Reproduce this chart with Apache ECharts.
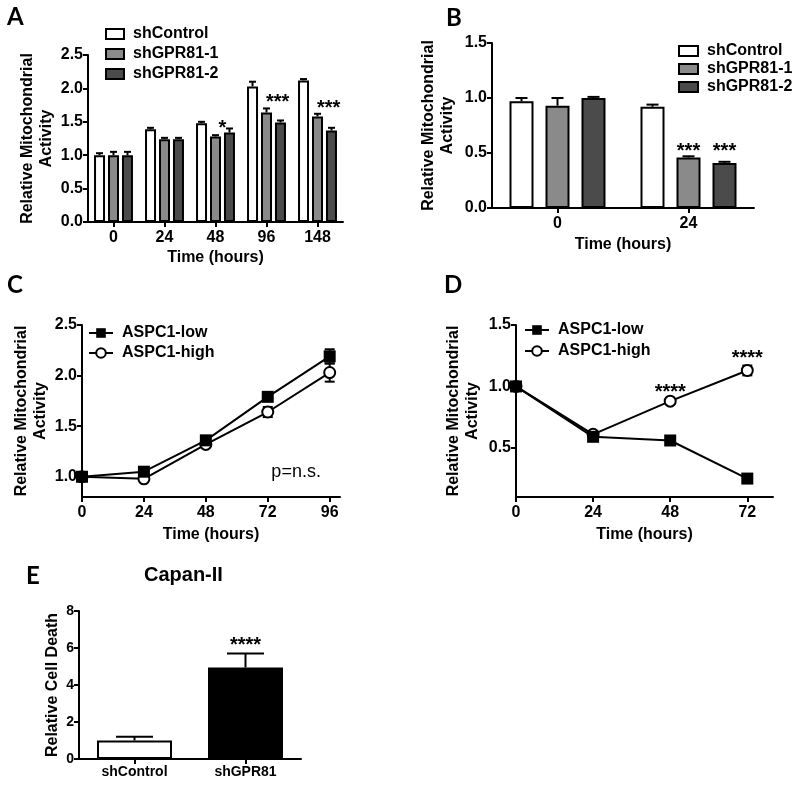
<!DOCTYPE html>
<html><head><meta charset="utf-8">
<script src="https://cdn.jsdelivr.net/npm/echarts@6/dist/echarts.min.js"></script>
<style>html,body{margin:0;padding:0;background:#fff}#c{width:800px;height:785px}</style>
</head><body><div id="c"></div>
<script>
// ---------- DATA ----------
// Panel A
const A_categories = ['0', '24', '48', '96', '148'];
const A_shControl = [1.00, 1.39, 1.48, 2.03, 2.12];
const A_shControl_err = [0.03, 0.02, 0.02, 0.07, 0.02];
const A_shGPR81_1 = [1.00, 1.24, 1.28, 1.64, 1.58];
const A_shGPR81_1_err = [0.05, 0.02, 0.02, 0.06, 0.04];
const A_shGPR81_2 = [1.00, 1.24, 1.34, 1.49, 1.37];
const A_shGPR81_2_err = [0.05, 0.02, 0.06, 0.03, 0.04];
// significance: [category, bar slot, y value, text]
const A_stars = [['48', 1.5, 1.48, '*'], ['96', 1.8, 1.87, '***'], ['148', 1.8, 1.78, '***']];

// Panel B
const B_categories = ['0', '24'];
const B_shControl = [0.97, 0.92];
const B_shControl_err = [0.03, 0.02];
const B_shGPR81_1 = [0.93, 0.46];
const B_shGPR81_1_err = [0.07, 0.01];
const B_shGPR81_2 = [1.00, 0.41];
const B_shGPR81_2_err = [0.01, 0.01];
const B_stars = [['24', 1, 0.56, '***'], ['24', 2, 0.56, '***']];

// Panel C
const C_time = [0, 24, 48, 72, 96];
const C_low = [1.00, 1.05, 1.36, 1.79, 2.19];
const C_low_err = [0.02, 0.02, 0.02, 0.02, 0.07];
const C_high = [1.00, 0.98, 1.32, 1.64, 2.03];
const C_high_err = [0.01, 0.01, 0.02, 0.05, 0.09];
const C_yTicks = [1.0, 1.5, 2.0, 2.5];
const C_note = [83, 1.05, 'p=n.s.'];

// Panel D
const D_time = [0, 24, 48, 72];
const D_low = [1.00, 0.59, 0.56, 0.25];
const D_low_err = [0.01, 0.01, 0.01, 0.01];
const D_high = [1.00, 0.61, 0.88, 1.13];
const D_high_err = [0.01, 0.02, 0.02, 0.04];
const D_yTicks = [0.5, 1.0, 1.5];
const D_stars = [[48, 0.99, '****'], [72, 1.27, '****']];

// Panel E
const E_categories = ['shControl', 'shGPR81'];
const E_values = [1.0, 4.95];
const E_err = [0.2, 0.75];
const E_stars = [['shGPR81', 6.43, '****']];

// ---------- STYLE ----------
const FONT = '"Liberation Sans", Arial, Helvetica, sans-serif';
const LETTER_FONT = 'Lato, "Open Sans", sans-serif';
const WHITE = '#ffffff', GRAY = '#8a8a8a', DARK = '#4b4b4b';
const TICK_FS = 16;

const chart = echarts.init(document.getElementById('c'));

function lbl(extra) {
  return Object.assign({ color: '#000', fontFamily: FONT, fontWeight: 'bold', fontSize: TICK_FS, margin: 5 }, extra || {});
}
function tck(extra) {
  return Object.assign({ show: true, length: 5, lineStyle: { color: '#000', width: 2 } }, extra || {});
}
function valAxis(grid, min, max, opts) {
  return Object.assign({
    type: 'value', gridIndex: grid, min: min, max: max,
    splitLine: { show: false },
    axisLine: { show: true, lineStyle: { color: '#000', width: 2 } },
    axisTick: tck(),
    axisLabel: lbl(),
    nameTextStyle: { color: '#000', fontFamily: FONT, fontWeight: 'bold', fontSize: 16, lineHeight: 19 }
  }, opts || {});
}
function catAxis(grid, data, opts) {
  return Object.assign({
    type: 'category', gridIndex: grid, data: data,
    axisLine: { show: true, lineStyle: { color: '#000', width: 2 } },
    axisTick: tck({ alignWithLabel: true }),
    axisLabel: lbl({ margin: 8 }),
    nameTextStyle: { color: '#000', fontFamily: FONT, fontWeight: 'bold', fontSize: 16 }
  }, opts || {});
}

function barSeries(name, grid, values, color, barW, gap) {
  return {
    name: name, type: 'bar', xAxisIndex: grid, yAxisIndex: grid,
    data: values, barWidth: barW, barGap: gap,
    itemStyle: { color: color, borderColor: '#000', borderWidth: 2 }
  };
}
// upper error bars over grouped bars
function barErr(grid, values, errs, slot, nBars, barW, gapPx, capW) {
  return {
    type: 'custom', xAxisIndex: grid, yAxisIndex: grid, z: 5, silent: true,
    data: values.map((v, i) => [i, v, errs[i]]),
    renderItem: function (params, api) {
      const c = api.coord([api.value(0), api.value(1)]);
      const t = api.coord([api.value(0), api.value(1) + api.value(2)]);
      const x = c[0] + (slot - (nBars - 1) / 2) * (barW + gapPx);
      return { type: 'group', children: [
        { type: 'line', shape: { x1: x, y1: c[1], x2: x, y2: t[1] }, style: { stroke: '#000', lineWidth: 2 } },
        { type: 'line', shape: { x1: x - capW / 2, y1: t[1], x2: x + capW / 2, y2: t[1] }, style: { stroke: '#000', lineWidth: 2 } }
      ] };
    }
  };
}
// symmetric error bars on line points
function lineErr(grid, xs, values, errs, capW) {
  return {
    type: 'custom', xAxisIndex: grid, yAxisIndex: grid, z: 1, silent: true,
    data: values.map((v, i) => [xs[i], v, errs[i]]),
    renderItem: function (params, api) {
      const lo = api.coord([api.value(0), api.value(1) - api.value(2)]);
      const hi = api.coord([api.value(0), api.value(1) + api.value(2)]);
      const x = lo[0];
      return { type: 'group', children: [
        { type: 'line', shape: { x1: x, y1: lo[1], x2: x, y2: hi[1] }, style: { stroke: '#000', lineWidth: 2 } },
        { type: 'line', shape: { x1: x - capW / 2, y1: hi[1], x2: x + capW / 2, y2: hi[1] }, style: { stroke: '#000', lineWidth: 2 } },
        { type: 'line', shape: { x1: x - capW / 2, y1: lo[1], x2: x + capW / 2, y2: lo[1] }, style: { stroke: '#000', lineWidth: 2 } }
      ] };
    }
  };
}
// text annotations ; item: [x, slot, y, text]
function textSeries(grid, items, nBars, barW, gapPx, fontSize, weight) {
  return {
    type: 'custom', xAxisIndex: grid, yAxisIndex: grid, z: 10, silent: true,
    data: items,
    renderItem: function (params, api) {
      const it = items[params.dataIndex];
      const p = api.coord([api.value(0), it[2]]);
      const x = p[0] + (it[1] - (nBars - 1) / 2) * (barW + gapPx);
      const isStar = it[3].indexOf('*') === 0;
      return { type: 'text', x: x, y: p[1] + (isStar ? fontSize * 0.25 : 0),
        style: { text: it[3], align: 'center', verticalAlign: 'middle',
          font: weight + ' ' + fontSize + 'px ' + FONT, fill: '#000' } };
    }
  };
}
function lineSeries(name, grid, xs, values, filled) {
  return {
    name: name, type: 'line', xAxisIndex: grid, yAxisIndex: grid,
    data: values.map((v, i) => [xs[i], v]),
    symbol: filled ? 'rect' : 'circle', symbolSize: filled ? 12 : 11,
    z: filled ? 4 : 3,
    lineStyle: { color: '#000', width: 2 },
    itemStyle: { color: filled ? '#000' : '#fff', borderColor: '#000', borderWidth: filled ? 0 : 2 }
  };
}

const legendText = { fontFamily: FONT, fontWeight: 'bold', fontSize: 16, color: '#000', padding: [0, 0, 0, 4] };
const yName = 'Relative Mitochondrial\nActivity';

const option = {
  animation: false,
  backgroundColor: '#fff',
  grid: [
    { left: 88, top: 55, width: 255, height: 167 },
    { left: 492, top: 43, width: 262, height: 165 },
    { left: 82, top: 325, width: 258, height: 172 },
    { left: 516, top: 325, width: 257, height: 172 },
    { left: 79, top: 611, width: 222, height: 148 }
  ],
  xAxis: [
    catAxis(0, A_categories, { name: 'Time (hours)', nameLocation: 'middle', nameGap: 28 }),
    catAxis(1, B_categories, { name: 'Time (hours)', nameLocation: 'middle', nameGap: 29 }),
    valAxis(2, 0, 100, { name: 'Time (hours)', nameLocation: 'middle', nameGap: 28,
      axisTick: tck({ customValues: C_time }),
      axisLabel: lbl({ margin: 8, customValues: C_time }) }),
    valAxis(3, 0, 80, { name: 'Time (hours)', nameLocation: 'middle', nameGap: 28,
      axisTick: tck({ customValues: D_time }),
      axisLabel: lbl({ margin: 8, customValues: D_time }) }),
    catAxis(4, E_categories, { axisLabel: lbl({ fontSize: 14, margin: 6 }) })
  ],
  yAxis: [
    valAxis(0, 0, 2.5, { interval: 0.5, name: yName, nameLocation: 'middle', nameGap: 32,
      axisLabel: lbl({ formatter: v => v.toFixed(1) }) }),
    valAxis(1, 0, 1.5, { interval: 0.5, name: yName, nameLocation: 'middle', nameGap: 35,
      axisLabel: lbl({ formatter: v => v.toFixed(1) }) }),
    valAxis(2, 0.8, 2.5, { name: yName, nameLocation: 'middle', nameGap: 32,
      axisTick: tck({ customValues: C_yTicks }),
      axisLabel: lbl({ customValues: C_yTicks, formatter: v => v.toFixed(1) }) }),
    valAxis(3, 0.1, 1.5, { name: yName, nameLocation: 'middle', nameGap: 34,
      axisTick: tck({ customValues: D_yTicks }),
      axisLabel: lbl({ customValues: D_yTicks, formatter: v => v.toFixed(1) }) }),
    valAxis(4, 0, 8, { interval: 2, name: 'Relative Cell Death', nameLocation: 'middle', nameGap: 16,
      axisLabel: lbl({ fontSize: 14 }) })
  ],
  legend: [
    { data: ['shControl', 'shGPR81-1', 'shGPR81-2'], orient: 'vertical', left: 100, top: 21,
      icon: 'rect', itemWidth: 18, itemHeight: 10, itemGap: 4, textStyle: legendText, selectedMode: false },
    { data: ['shControl', 'shGPR81-1', 'shGPR81-2'], orient: 'vertical', left: 673, top: 38,
      icon: 'rect', itemWidth: 19, itemHeight: 10, itemGap: 2, textStyle: legendText, selectedMode: false },
    { data: ['ASPC1-low', 'ASPC1-high'], orient: 'vertical', left: 83, top: 320,
      itemWidth: 24, itemHeight: 12, itemGap: 4, textStyle: legendText, selectedMode: false },
    { data: ['ASPC1-low', 'ASPC1-high'], orient: 'vertical', left: 519, top: 317,
      itemWidth: 24, itemHeight: 12, itemGap: 5, textStyle: legendText, selectedMode: false }
  ],
  graphic: [
    { type: 'text', left: 7, top: 5, style: { text: 'A', font: 'bold 24px ' + LETTER_FONT, fill: '#000' } },
    { type: 'text', left: 446, top: 6, style: { text: 'B', font: 'bold 24px ' + LETTER_FONT, fill: '#000' } },
    { type: 'text', left: 7, top: 273, style: { text: 'C', font: 'bold 24px ' + LETTER_FONT, fill: '#000' } },
    { type: 'text', left: 444, top: 273, style: { text: 'D', font: 'bold 24px ' + LETTER_FONT, fill: '#000' } },
    { type: 'text', left: 26, top: 564, style: { text: 'E', font: 'bold 24px ' + LETTER_FONT, fill: '#000' } },
    { type: 'text', left: 144, top: 565, style: { text: 'Capan-II', font: 'bold 20px ' + FONT, fill: '#000' } }
  ],
  series: [
    // A
    barSeries('shControl', 0, A_shControl, WHITE, 11, '27%'),
    barSeries('shGPR81-1', 0, A_shGPR81_1, GRAY, 11, '27%'),
    barSeries('shGPR81-2', 0, A_shGPR81_2, DARK, 11, '27%'),
    barErr(0, A_shControl, A_shControl_err, 0, 3, 11, 3, 7),
    barErr(0, A_shGPR81_1, A_shGPR81_1_err, 1, 3, 11, 3, 7),
    barErr(0, A_shGPR81_2, A_shGPR81_2_err, 2, 3, 11, 3, 7),
    textSeries(0, A_stars, 3, 11, 3, 20, 'bold'),
    // B
    barSeries('shControl', 1, B_shControl, WHITE, 24, '50%'),
    barSeries('shGPR81-1', 1, B_shGPR81_1, GRAY, 24, '50%'),
    barSeries('shGPR81-2', 1, B_shGPR81_2, DARK, 24, '50%'),
    barErr(1, B_shControl, B_shControl_err, 0, 3, 24, 12, 12),
    barErr(1, B_shGPR81_1, B_shGPR81_1_err, 1, 3, 24, 12, 12),
    barErr(1, B_shGPR81_2, B_shGPR81_2_err, 2, 3, 24, 12, 12),
    textSeries(1, B_stars, 3, 24, 12, 20, 'bold'),
    // C
    lineErr(2, C_time, C_low, C_low_err, 10),
    lineErr(2, C_time, C_high, C_high_err, 10),
    lineSeries('ASPC1-high', 2, C_time, C_high, false),
    lineSeries('ASPC1-low', 2, C_time, C_low, true),
    textSeries(2, [[C_note[0], 1, C_note[1], C_note[2]]], 3, 0, 0, 18, 'normal'),
    // D
    lineErr(3, D_time, D_low, D_low_err, 10),
    lineErr(3, D_time, D_high, D_high_err, 10),
    lineSeries('ASPC1-high', 3, D_time, D_high, false),
    lineSeries('ASPC1-low', 3, D_time, D_low, true),
    textSeries(3, D_stars.map(s => [s[0], 1, s[1], s[2]]), 3, 0, 0, 20, 'bold'),
    // E
    {
      name: 'Relative Cell Death', type: 'bar', xAxisIndex: 4, yAxisIndex: 4, barWidth: 75,
      data: E_values.map((v, i) => ({ value: v, itemStyle: { color: i === 0 ? '#fff' : '#000' } })),
      itemStyle: { borderColor: '#000', borderWidth: 2 }
    },
    barErr(4, E_values, E_err, 0, 1, 75, 0, 37),
    textSeries(4, E_stars.map(s => [s[0], 0, s[1], s[2]]), 1, 0, 0, 20, 'bold')
  ]
};
chart.setOption(option);
</script>
</body></html>
